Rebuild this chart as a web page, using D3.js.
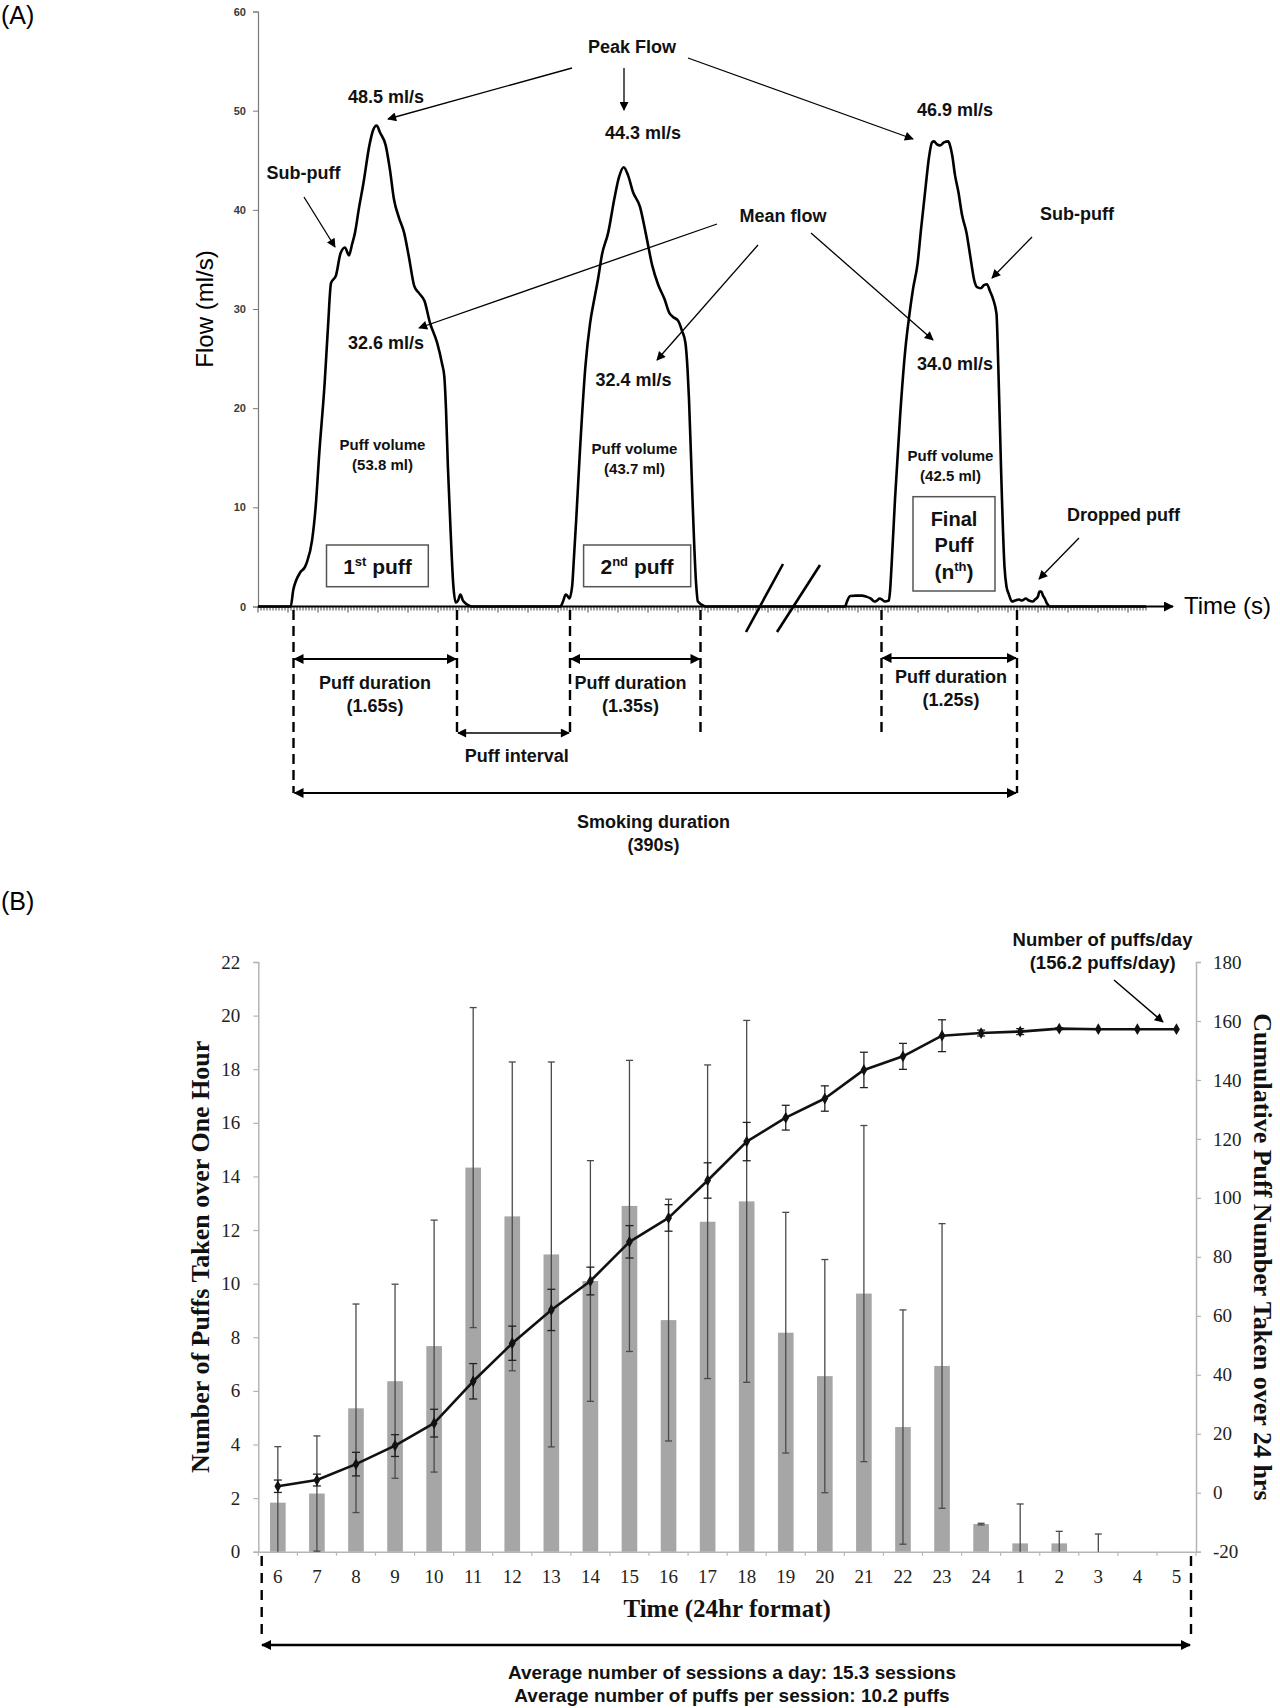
<!DOCTYPE html>
<html><head><meta charset="utf-8">
<script src="https://cdnjs.cloudflare.com/ajax/libs/d3/7.8.5/d3.min.js"></script>
<style>
html,body{margin:0;padding:0;background:#fff;}
svg{display:block;}
</style></head><body>
<svg id="chart" width="1280" height="1708"></svg>
<script>
// ================= Panel A data (flow trace) =================
const flowTicks = [0, 10, 20, 30, 40, 50, 60];
// [time (s), flow (ml/s)]
const puff1 = [[0,0],[0.327,0],[0.353,1.7],[0.38,2.6],[0.42,3.4],[0.47,4.0],[0.49,4.5],[0.541,6.7],[0.577,10.1],[0.613,15.5],[0.667,22.6],[0.70,28.2],[0.73,32.6],[0.78,33.4],[0.825,35.6],[0.87,36.2],[0.91,35.4],[0.94,36.5],[0.97,37.7],[1.01,40.2],[1.053,42.6],[1.114,46.5],[1.15,48.0],[1.187,48.5],[1.22,47.8],[1.277,46.5],[1.32,44.0],[1.359,41.1],[1.41,39.2],[1.461,37.7],[1.51,35.2],[1.563,32.3],[1.61,31.6],[1.665,30.8],[1.72,28.6],[1.791,26.6],[1.84,24.5],[1.863,23.2],[1.88,19.9],[1.899,14.1],[1.927,7.4],[1.952,2.3],[1.977,0.4],[2.0,0.6],[2.024,1.2],[2.05,0.6],[2.077,0.3],[2.13,0]];
const puff2 = [[2.13,0],[3.024,0],[3.05,0.5],[3.077,1.2],[3.10,1.0],[3.113,0.8],[3.141,2.0],[3.16,5.0],[3.184,9.1],[3.22,15.8],[3.274,24.2],[3.32,28.5],[3.363,31.0],[3.40,33.0],[3.44,35.5],[3.502,37.7],[3.563,41.1],[3.61,43.3],[3.657,44.3],[3.70,43.5],[3.75,41.8],[3.82,40.3],[3.88,37.5],[3.942,34.4],[4.00,32.5],[4.065,31.0],[4.113,29.6],[4.15,29.2],[4.202,28.8],[4.24,27.8],[4.274,26.6],[4.295,24.0],[4.31,20.9],[4.345,10.8],[4.381,2.3],[4.399,0.5],[4.47,0]];
const puff3 = [[4.47,0],[5.87,0],[5.89,0.5],[5.922,1.06],[5.98,1.1],[6.042,1.1],[6.08,1.0],[6.129,0.8],[6.163,0.5],[6.19,0.6],[6.215,0.8],[6.24,0.7],[6.266,0.5],[6.308,0.6],[6.32,1.5],[6.335,4.0],[6.37,10.8],[6.421,19.2],[6.473,25.9],[6.515,29.5],[6.55,32.0],[6.596,34.6],[6.63,38.0],[6.677,42.4],[6.71,45.3],[6.74,46.8],[6.76,46.9],[6.79,46.6],[6.82,46.5],[6.86,46.8],[6.902,46.9],[6.92,46.5],[6.942,45.5],[6.97,43.5],[7.004,41.8],[7.04,39.5],[7.085,37.7],[7.12,35.5],[7.167,32.7],[7.19,32.2],[7.228,32.1],[7.26,32.4],[7.289,32.5],[7.32,31.8],[7.351,31.0],[7.385,29.5],[7.403,24.2],[7.43,14.1],[7.465,4.0],[7.485,2.0],[7.506,1.3],[7.54,0.5],[7.57,0.6],[7.61,0.7],[7.64,0.6],[7.678,0.8],[7.71,0.6],[7.747,0.5],[7.77,0.7],[7.799,1.0],[7.815,1.5],[7.833,1.5],[7.85,1.1],[7.868,0.8],[7.89,0.3],[7.92,0],[8.88,0]];
const puffBounds = [[0.355, 1.99], [3.12, 4.425], [6.235, 7.59]];   // puff start / end (s)
const peakFlowLabels = ["48.5 ml/s", "44.3 ml/s", "46.9 ml/s"];
const meanFlowLabels = ["32.6 ml/s", "32.4 ml/s", "34.0 ml/s"];
const puffVolumeLabels = ["(53.8 ml)", "(43.7 ml)", "(42.5 ml)"];
const puffDurationLabels = ["(1.65s)", "(1.35s)", "(1.25s)"];

// ================= Panel B data (24 h topography) =================
const hours = ["6","7","8","9","10","11","12","13","14","15","16","17","18","19","20","21","22","23","24","1","2","3","4","5"];
const puffsPerHour   = [1.83,2.17,5.35,6.36,7.67,14.33,12.51,11.09,10.1,12.9,8.64,12.31,13.07,8.17,6.55,9.63,4.65,6.93,1.03,0.31,0.31,0,0,0];
const puffsPerHourSD = [2.09,2.15,3.89,3.62,4.70,5.97,5.76,7.18,4.49,5.43,4.51,5.85,6.75,4.49,4.35,6.27,4.37,5.31,0.03,1.47,0.45,0.66,0,0];
const cumulativePuffs = [2.2,4.3,9.7,16.0,23.6,37.8,50.7,62.0,71.8,85.1,93.2,105.9,119.1,127.2,133.7,143.4,148.0,155.0,155.9,156.4,157.4,157.2,157.2,157.2];
const cumulativeSD    = [2.1,2.0,4.0,3.7,4.7,6.0,5.8,7.0,4.7,5.5,4.5,6.0,6.5,4.2,4.3,6.0,4.4,5.4,1.0,1.0,0.3,0,0,0];
const leftTicks  = [0,2,4,6,8,10,12,14,16,18,20,22];
const rightTicks = [-20,0,20,40,60,80,100,120,140,160,180];

// ================= Drawing =================
const SANS = "'Liberation Sans', Arial, Helvetica, sans-serif";
const SERIF = "'Liberation Serif', 'Times New Roman', serif";
const svg = d3.select('#chart');
const defs = svg.append('defs');
function marker(id, w, h) {
  defs.append('marker').attr('id', id).attr('viewBox', '0 0 10 10')
    .attr('refX', 9).attr('refY', 5).attr('markerWidth', w).attr('markerHeight', h)
    .attr('markerUnits', 'userSpaceOnUse').attr('orient', 'auto-start-reverse')
    .append('path').attr('d', 'M0,0 L10,5 L0,10 z').attr('fill', '#000');
}
marker('ahS', 11, 9);
marker('ahB', 13, 10);

function txt(g, s, x, y, size, opts = {}) {
  return g.append('text').attr('x', x).attr('y', y).attr('dy', '0.35em')
    .attr('text-anchor', opts.anchor || 'middle')
    .attr('font-family', opts.family || SANS)
    .attr('font-weight', opts.weight || 'bold')
    .attr('font-size', size).attr('fill', opts.fill || '#111')
    .attr('letter-spacing', opts.ls || 0)
    .text(s);
}
function arrow(g, x1, y1, x2, y2, w, both, mk) {
  const l = g.append('line').attr('x1', x1).attr('y1', y1).attr('x2', x2).attr('y2', y2)
    .attr('stroke', '#000').attr('stroke-width', w).attr('marker-end', `url(#${mk})`);
  if (both) l.attr('marker-start', `url(#${mk})`);
  return l;
}

// ---------- Panel A ----------
const gA = svg.append('g');
const xA = d3.scaleLinear().domain([0, 9.15]).range([258, 1173]);
const yA = d3.scaleLinear().domain([0, 60]).range([606.5, 11.5]);

txt(gA, '(A)', 1, 15, 25, {anchor: 'start', weight: 'normal', fill: '#000'});

const axA = gA.append('g').attr('transform', `translate(${xA(0)},0)`)
  .call(d3.axisLeft(yA).tickValues(flowTicks).tickSize(5).tickPadding(7));
axA.select('.domain').attr('stroke', '#7a7a7a').attr('stroke-width', 1.2);
axA.selectAll('.tick line').attr('stroke', '#7a7a7a');
axA.selectAll('.tick text').attr('font-family', SANS).attr('font-weight', 'bold')
  .attr('font-size', 11).attr('fill', '#3a3a3a');

// time axis with dense minor ticks
gA.append('g').selectAll('line').data(d3.range(0, 8.88, 0.03)).join('line')
  .attr('x1', d => xA(d)).attr('x2', d => xA(d))
  .attr('y1', yA(0)).attr('y2', (d, i) => yA(0) + (i % 10 === 0 ? 6 : 4))
  .attr('stroke', '#333').attr('stroke-width', 0.9);
arrow(gA, xA(0), yA(0), xA(9.15), yA(0), 2, false, 'ahB');
txt(gA, 'Time (s)', 1184, 606, 24, {anchor: 'start', weight: 'normal', fill: '#000'});
gA.append('text').attr('transform', `translate(205,${yA(30)}) rotate(-90)`)
  .attr('text-anchor', 'middle').attr('dy', '0.35em').attr('font-family', SANS)
  .attr('font-size', 24).attr('fill', '#000').text('Flow (ml/s)');

// break marks
gA.append('line').attr('x1', 746).attr('y1', 632).attr('x2', 783).attr('y2', 564).attr('stroke', '#000').attr('stroke-width', 2.6);
gA.append('line').attr('x1', 777).attr('y1', 632).attr('x2', 820).attr('y2', 565).attr('stroke', '#000').attr('stroke-width', 2.6);

// flow curves
const lineA = d3.line().x(d => xA(d[0])).y(d => yA(d[1])).curve(d3.curveMonotoneX);
[puff1, puff2, puff3].forEach(p => gA.append('path').attr('d', lineA(p))
  .attr('fill', 'none').attr('stroke', '#000').attr('stroke-width', 2.6).attr('stroke-linejoin', 'round'));

// puff boxes
function box(x0, y0, x1, y1) {
  gA.append('rect').attr('x', x0).attr('y', y0).attr('width', x1 - x0).attr('height', y1 - y0)
    .attr('fill', '#fff').attr('stroke', '#555').attr('stroke-width', 1.5);
}
box(326.5, 545, 428.3, 586.7);
box(583.6, 545, 690.7, 586.7);
box(913, 496.7, 995, 591);
function supText(x, y, a, sup, b) {
  const t = gA.append('text').attr('x', x).attr('y', y).attr('text-anchor', 'middle')
    .attr('font-family', SANS).attr('font-weight', 'bold').attr('font-size', 21).attr('fill', '#111');
  t.append('tspan').text(a);
  t.append('tspan').attr('font-size', 13).attr('dy', -8).text(sup);
  t.append('tspan').attr('dy', 8).text(b);
}
supText(377.5, 574, '1', 'st', ' puff');
supText(637, 574, '2', 'nd', ' puff');
txt(gA, 'Final', 954, 519, 20);
txt(gA, 'Puff', 954, 545, 20);
supText(954, 579, '(n', 'th', ')');

// peak flow annotations
txt(gA, 'Peak Flow', 632, 47, 18);
const peakPos = [[386, 97], [643, 133], [955, 110]];
peakFlowLabels.forEach((s, i) => txt(gA, s, peakPos[i][0], peakPos[i][1], 18));
arrow(gA, 572, 68, 388, 119, 1.3, false, 'ahS');
arrow(gA, 624, 68, 624, 110, 1.3, false, 'ahS');
arrow(gA, 688, 58, 913, 139, 1.3, false, 'ahS');

// sub-puff annotations
txt(gA, 'Sub-puff', 303.5, 173, 18);
arrow(gA, 304, 197, 335, 247, 1.3, false, 'ahS');
txt(gA, 'Sub-puff', 1077, 214, 18);
arrow(gA, 1032, 237, 992, 278, 1.3, false, 'ahS');

// mean flow annotations
txt(gA, 'Mean flow', 783, 216, 18);
const meanPos = [[386, 343], [633.6, 380], [955, 364]];
meanFlowLabels.forEach((s, i) => txt(gA, s, meanPos[i][0], meanPos[i][1], 18));
arrow(gA, 717, 224, 419, 328, 1.3, false, 'ahS');
arrow(gA, 758, 245, 657, 360, 1.3, false, 'ahS');
arrow(gA, 811, 233, 933, 340, 1.3, false, 'ahS');

// puff volumes
const volPos = [[382.5, 445], [634.5, 449], [950.5, 456]];
puffVolumeLabels.forEach((s, i) => {
  txt(gA, 'Puff volume', volPos[i][0], volPos[i][1], 15);
  txt(gA, s, volPos[i][0], volPos[i][1] + 20, 15);
});

// dropped puff
txt(gA, 'Dropped puff', 1123.5, 515, 18);
arrow(gA, 1079, 538, 1039, 579, 1.3, false, 'ahS');

// dashed boundaries and duration arrows
const dash = (x, y1, y2) => gA.append('line').attr('x1', x).attr('x2', x).attr('y1', y1).attr('y2', y2)
  .attr('stroke', '#000').attr('stroke-width', 2.4).attr('stroke-dasharray', '10,6');
puffBounds.forEach((b, i) => {
  const last = i === puffBounds.length - 1;
  dash(xA(b[0]), 610, i === 0 ? 793 : 733);
  dash(xA(b[1]), 610, last ? 793 : 733);
  const yy = i === 2 ? 658 : 659;
  arrow(gA, xA(b[0]) + 1, yy, xA(b[1]) - 1, yy, 2, true, 'ahB');
});
const durPos = [[375, 683], [630.5, 683], [951, 677]];
puffDurationLabels.forEach((s, i) => {
  txt(gA, 'Puff duration', durPos[i][0], durPos[i][1], 18);
  txt(gA, s, durPos[i][0], durPos[i][1] + 23, 18);
});
arrow(gA, xA(puffBounds[0][1]) + 1, 733, xA(puffBounds[1][0]) - 1, 733, 1.6, true, 'ahS');
txt(gA, 'Puff interval', 516.7, 756, 18);
arrow(gA, xA(puffBounds[0][0]) + 1, 793, xA(puffBounds[2][1]) - 1, 793, 2, true, 'ahB');
txt(gA, 'Smoking duration', 653.5, 822, 18);
txt(gA, '(390s)', 653.5, 845, 18);

// ---------- Panel B ----------
const gB = svg.append('g');
txt(gB, '(B)', 1, 901, 25, {anchor: 'start', weight: 'normal', fill: '#000'});

const xB = d3.scaleBand().domain(hours).range([258.3, 1196]).paddingInner(0).paddingOuter(0);
const yL = d3.scaleLinear().domain([0, 22]).range([1551.7, 962]);
const yR = d3.scaleLinear().domain([-20, 180]).range([1551.7, 962]);
const bw = xB.bandwidth();
const barW = bw * 0.4;
const AX = '#b5b5b5';

// axes
const axL = gB.append('g').attr('transform', `translate(${xB.range()[0]},0)`)
  .call(d3.axisLeft(yL).tickValues(leftTicks).tickSize(5).tickPadding(13).tickFormat(d => String(d)));
const axR = gB.append('g').attr('transform', `translate(${xB.range()[1]},0)`)
  .call(d3.axisRight(yR).tickValues(rightTicks).tickSize(5).tickPadding(12).tickFormat(d => String(d)));
[axL, axR].forEach(a => {
  a.select('.domain').attr('stroke', AX).attr('stroke-width', 1.5);
  a.selectAll('.tick line').attr('stroke', AX).attr('stroke-width', 1.2);
  a.selectAll('.tick text').attr('font-family', SERIF).attr('font-size', 19).attr('fill', '#222');
});
const axX = gB.append('g').attr('transform', `translate(0,${yL(0)})`)
  .call(d3.axisBottom(xB).tickSize(0).tickPadding(18));
axX.select('.domain').attr('stroke', AX).attr('stroke-width', 1.5);
axX.selectAll('.tick text').attr('font-family', SERIF).attr('font-size', 19).attr('fill', '#222');
gB.append('g').selectAll('line').data(d3.range(hours.length + 1)).join('line')
  .attr('x1', i => xB.range()[0] + i * bw).attr('x2', i => xB.range()[0] + i * bw)
  .attr('y1', yL(0)).attr('y2', yL(0) + 4).attr('stroke', AX).attr('stroke-width', 1.2);

// bars
gB.append('g').selectAll('rect').data(hours).join('rect')
  .attr('x', d => xB(d) + (bw - barW) / 2).attr('width', barW)
  .attr('y', (d, i) => yL(puffsPerHour[i]))
  .attr('height', (d, i) => yL(0) - yL(puffsPerHour[i]))
  .attr('fill', '#a6a6a6');

// bar error bars
const gE = gB.append('g').attr('stroke', '#4a4a4a').attr('stroke-width', 1.3);
hours.forEach((h, i) => {
  const sd = puffsPerHourSD[i];
  if (!sd) return;
  const cx = xB(h) + bw / 2;
  const hi = puffsPerHour[i] + sd, lo = puffsPerHour[i] - sd;
  gE.append('line').attr('x1', cx).attr('x2', cx).attr('y1', yL(hi)).attr('y2', yL(Math.max(0, lo)));
  gE.append('line').attr('x1', cx - 3.5).attr('x2', cx + 3.5).attr('y1', yL(hi)).attr('y2', yL(hi));
  if (lo >= 0) gE.append('line').attr('x1', cx - 3.5).attr('x2', cx + 3.5).attr('y1', yL(lo)).attr('y2', yL(lo));
});

// cumulative error bars
const gC = gB.append('g').attr('stroke', '#222').attr('stroke-width', 1.3);
hours.forEach((h, i) => {
  const sd = cumulativeSD[i];
  if (!sd) return;
  const cx = xB(h) + bw / 2;
  const hi = cumulativePuffs[i] + sd, lo = cumulativePuffs[i] - sd;
  gC.append('line').attr('x1', cx).attr('x2', cx).attr('y1', yR(hi)).attr('y2', yR(lo));
  [hi, lo].forEach(v => gC.append('line').attr('x1', cx - 4).attr('x2', cx + 4).attr('y1', yR(v)).attr('y2', yR(v)));
});

// cumulative line
const lineB = d3.line().x((d, i) => xB(hours[i]) + bw / 2).y(d => yR(d));
gB.append('path').attr('d', lineB(cumulativePuffs)).attr('fill', 'none')
  .attr('stroke', '#111').attr('stroke-width', 2.6).attr('stroke-linejoin', 'round');
gB.append('g').selectAll('path').data(cumulativePuffs).join('path')
  .attr('transform', (d, i) => `translate(${xB(hours[i]) + bw / 2},${yR(d)})`)
  .attr('d', d3.symbol(d3.symbolDiamond, 40)).attr('fill', '#111');

// axis titles
gB.append('text').attr('transform', `translate(200,${(yL(0) + yL(22)) / 2}) rotate(-90)`)
  .attr('text-anchor', 'middle').attr('dy', '0.35em').attr('font-family', SERIF).attr('font-weight', 'bold')
  .attr('font-size', 26).attr('fill', '#111').text('Number of Puffs Taken over One Hour');
gB.append('text').attr('transform', `translate(1263,${(yL(0) + yL(22)) / 2}) rotate(90)`)
  .attr('text-anchor', 'middle').attr('dy', '0.35em').attr('font-family', SERIF).attr('font-weight', 'bold')
  .attr('font-size', 26).attr('fill', '#111').text('Cumulative Puff Number Taken over 24 hrs');
txt(gB, 'Time (24hr format)', (xB.range()[0] + xB.range()[1]) / 2, 1608, 25, {family: SERIF});

// puffs/day annotation
txt(gB, 'Number of puffs/day', 1102.5, 940, 18.5);
txt(gB, '(156.2 puffs/day)', 1102.7, 963, 18.5);
arrow(gB, 1114, 980, 1163, 1022, 1.5, false, 'ahS');

// session span
const dashB = x => gB.append('line').attr('x1', x).attr('x2', x).attr('y1', 1556).attr('y2', 1637)
  .attr('stroke', '#000').attr('stroke-width', 2.4).attr('stroke-dasharray', '10,7');
dashB(261.7); dashB(1191);
arrow(gB, 262, 1645, 1190, 1645, 2.4, true, 'ahB');
txt(gB, 'Average number of sessions a day: 15.3 sessions', 732, 1672, 19);
txt(gB, 'Average number of puffs per session: 10.2 puffs', 732, 1695, 19);
</script>
</body></html>
